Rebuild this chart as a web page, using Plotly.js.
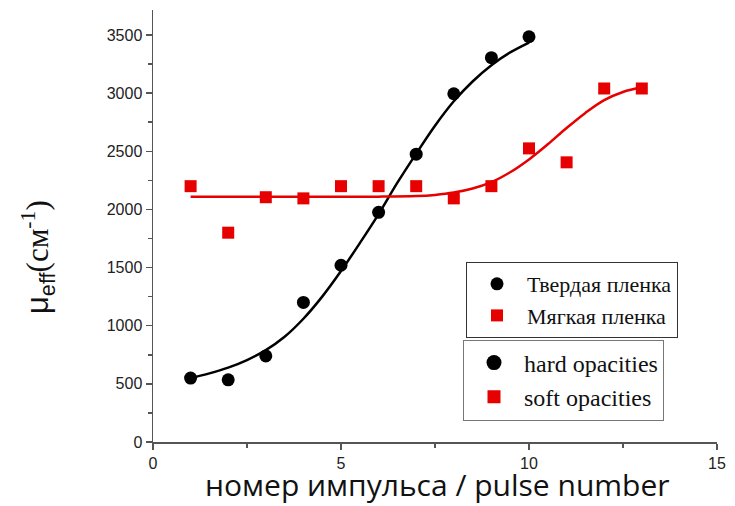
<!DOCTYPE html>
<html><head><meta charset="utf-8">
<script src="https://cdn.plot.ly/plotly-3.0.1.min.js"></script>
<style>body{margin:0;background:#fff}#c{width:735px;height:506px}</style>
</head><body><div id="c"></div>
<script>
// measured points
const hardPulse = [1,2,3,4,5,6,7,8,9,10];
const hardVals = [550,535,740,1200,1520,1975,2475,2995,3305,3485];
const softPulse = [1,2,3,4,5,6,7,8,9,10,11,12,13];
const softVals = [2200,1800,2105,2095,2200,2200,2200,2095,2200,2525,2405,3040,3040];
// fitted curves
const hardFitX = [1,1.5,2,2.5,3,3.5,4,4.5,5,5.5,6,6.5,7,7.5,8,8.5,9,9.5,10];
const hardFitY = [550,590,640,705,790,905,1060,1250,1470,1710,1960,2230,2480,2720,2930,3100,3240,3350,3435];
const softFitX = [1,2,3,4,5,6,7,7.5,8,8.5,9,9.5,10,10.5,11,11.5,12,12.5,13];
const softFitY = [2110,2110,2110,2110,2110,2110,2115,2125,2145,2180,2235,2320,2430,2560,2700,2830,2940,3010,3050];
const namesRu = ["Твердая пленка","Мягкая пленка"];
const namesEn = ["hard opacities","soft opacities"];
const xTitle = "номер импульса / pulse number";
const yTitle = "μ<sub>eff</sub><span style=\"font-family:Liberation Serif\">(см<sup>-1</sup>)</span>";

const RED = "#e60000";
const data = [
  {x:hardFitX,y:hardFitY,mode:"lines",line:{color:"#000",width:2.5,shape:"spline"},showlegend:false,hoverinfo:"skip"},
  {x:softFitX,y:softFitY,mode:"lines",line:{color:RED,width:2.5,shape:"spline"},showlegend:false,hoverinfo:"skip"},
  {x:hardPulse,y:hardVals,mode:"markers",name:namesRu[0],marker:{symbol:"circle",size:13,color:"#000"},legend:"legend"},
  {x:softPulse,y:softVals,mode:"markers",name:namesRu[1],marker:{symbol:"square",size:12,color:RED},legend:"legend"},
  {x:[null],y:[null],mode:"markers",name:namesEn[0],marker:{symbol:"circle",size:15,color:"#000"},legend:"legend2"},
  {x:[null],y:[null],mode:"markers",name:namesEn[1],marker:{symbol:"square",size:13,color:RED},legend:"legend2"}
];
const axisCommon = {showline:true,linecolor:"#555",linewidth:1.5,ticks:"outside",ticklen:6,tickwidth:1.5,tickcolor:"#555",
  showgrid:false,zeroline:false,tickfont:{family:"Liberation Sans, Arial",size:16,color:"#222"}};
const layout = {
  width:735,height:506,margin:{l:153,r:18,t:10,b:64},
  paper_bgcolor:"#fff",plot_bgcolor:"#fff",
  xaxis:Object.assign({},axisCommon,{range:[0,15],dtick:5,tick0:0,
    minor:{dtick:2.5,ticks:"outside",ticklen:4,tickcolor:"#555",tickwidth:1.5}}),
  yaxis:Object.assign({},axisCommon,{range:[0,3715],dtick:500,tick0:0,
    minor:{dtick:250,ticks:"outside",ticklen:4,tickcolor:"#555",tickwidth:1.5}}),
  annotations:[
    {text:xTitle,xref:"paper",yref:"paper",x:(437-153)/564,y:(442-507)/432,xanchor:"center",yanchor:"bottom",
     showarrow:false,font:{family:"Open Sans, Noto Sans",size:30,color:"#111"}},
    {text:yTitle,xref:"paper",yref:"paper",x:(38-153)/564,y:(442-257)/432,xanchor:"center",yanchor:"middle",textangle:-90,
     showarrow:false,font:{family:"Liberation Sans, Arial",size:31,color:"#111"}}
  ],
  legend:{x:(466-153)/564,y:(442-300)/432,xanchor:"left",yanchor:"middle",bordercolor:"#333",borderwidth:1,bgcolor:"#fff",
    font:{family:"Liberation Serif, Times New Roman",size:22,color:"#111"},itemwidth:50},
  legend2:{x:(463-153)/564,y:(442-380)/432,xanchor:"left",yanchor:"middle",bordercolor:"#777",borderwidth:1,bgcolor:"#fff",
    font:{family:"Liberation Serif, Times New Roman",size:24,color:"#111"},itemwidth:50},
  showlegend:true
};
Plotly.newPlot("c",data,layout,{staticPlot:true});
</script></body></html>
